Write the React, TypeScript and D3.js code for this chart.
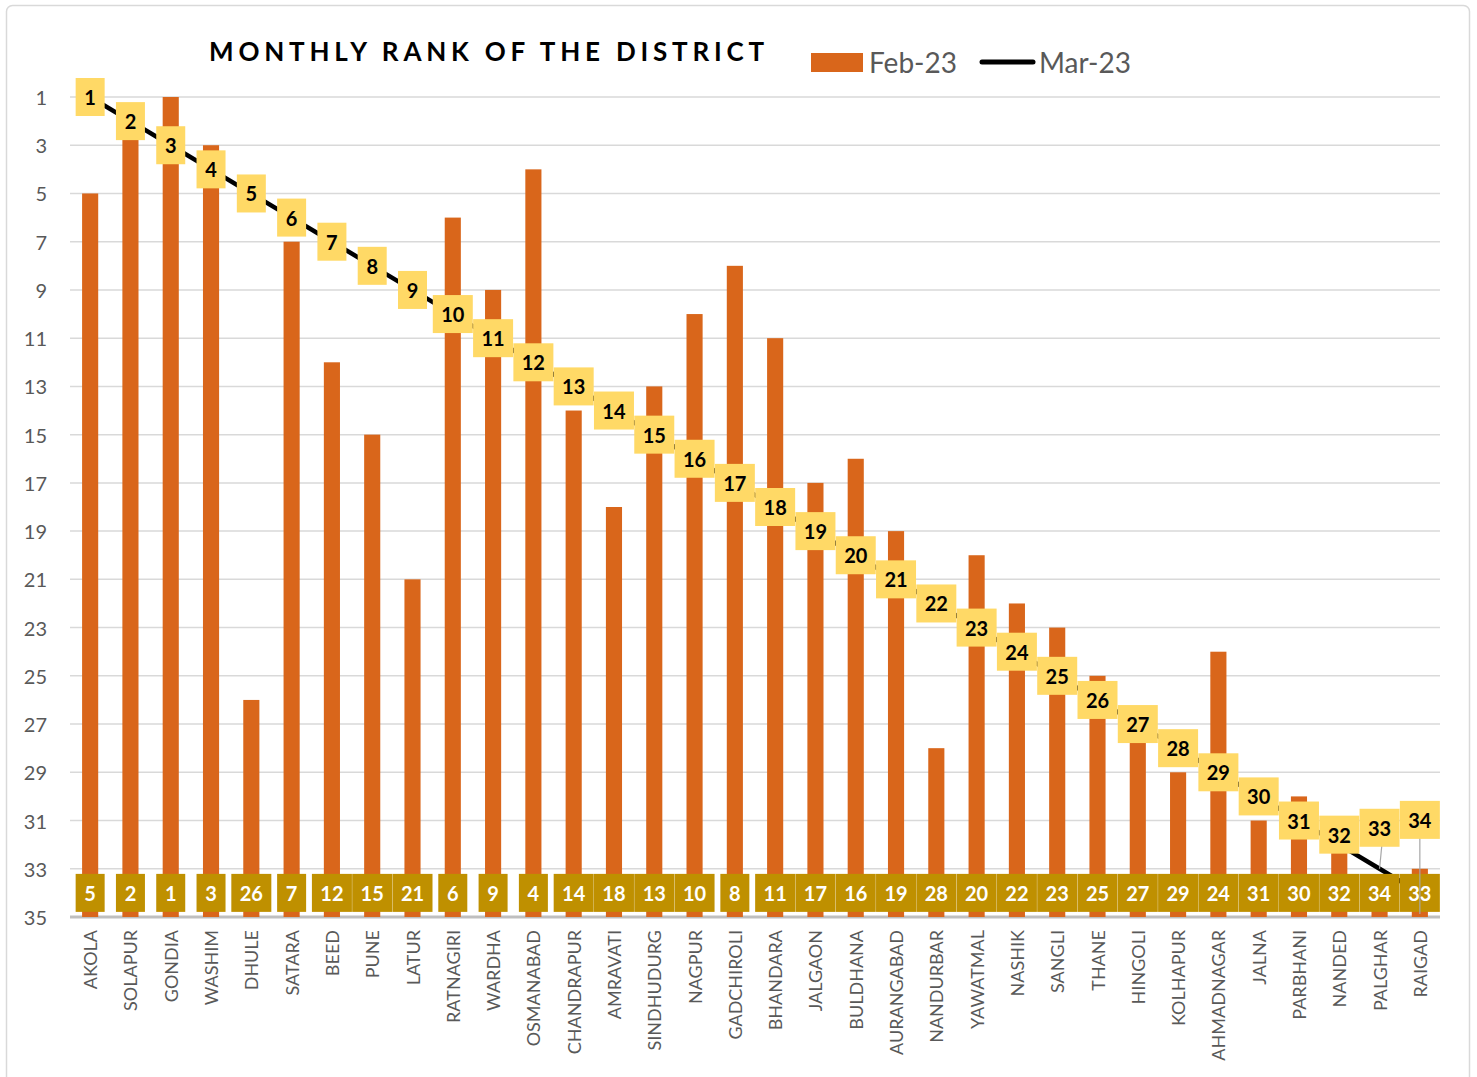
import * as d3 from "d3";

const districts = ["AKOLA", "SOLAPUR", "GONDIA", "WASHIM", "DHULE", "SATARA", "BEED", "PUNE", "LATUR", "RATNAGIRI", "WARDHA", "OSMANABAD", "CHANDRAPUR", "AMRAVATI", "SINDHUDURG", "NAGPUR", "GADCHIROLI", "BHANDARA", "JALGAON", "BULDHANA", "AURANGABAD", "NANDURBAR", "YAWATMAL", "NASHIK", "SANGLI", "THANE", "HINGOLI", "KOLHAPUR", "AHMADNAGAR", "JALNA", "PARBHANI", "NANDED", "PALGHAR", "RAIGAD"];
const feb23 = [5, 2, 1, 3, 26, 7, 12, 15, 21, 6, 9, 4, 14, 18, 13, 10, 8, 11, 17, 16, 19, 28, 20, 22, 23, 25, 27, 29, 24, 31, 30, 32, 34, 33];
const mar23 = [1, 2, 3, 4, 5, 6, 7, 8, 9, 10, 11, 12, 13, 14, 15, 16, 17, 18, 19, 20, 21, 22, 23, 24, 25, 26, 27, 28, 29, 30, 31, 32, 33, 34];
const yTicks = [1, 3, 5, 7, 9, 11, 13, 15, 17, 19, 21, 23, 25, 27, 29, 31, 33, 35];

const width = 1477;
const height = 1077;
const marginLeft = 70;
const marginRight = 37;
const font = "Lato, 'Open Sans', sans-serif";

const App = () => {
    const x = d3.scaleBand().domain(districts).range([marginLeft, width - marginRight]).paddingInner(0.6).paddingOuter(0.3);
    const y = d3.scaleLinear().domain([1, 35]).range([97, 917]);
    const cx = (d: string) => (x(d) ?? 0) + x.bandwidth() / 2;

    const line = d3.line<number>().x((d, i) => cx(districts[i])).y(d => y(d));
    const boxW = (s: string) => (s.length > 1 ? 40 : 29);

    // labels for the last points are pushed up, with leader lines
    const labelShift = (i: number) => (i === 31 ? -10 : i === 32 ? -41 : i === 33 ? -73 : 0);

    return (
        <div style={{ position: 'absolute', left: 0, top: 0 }}>
            <svg width={width} height={height} style={{ display: 'block', fontFamily: font }}>
                <rect x={6.5} y={5.5} width={1463} height={1080} rx={6} fill="#fff" stroke="#D9D9D9" strokeWidth={1.5} />

                <g>
                    {yTicks.map(t => (
                        <g key={t}>
                            <line x1={marginLeft} x2={width - marginRight} y1={y(t)} y2={y(t)} stroke={t === 35 ? '#BFBFBF' : '#D9D9D9'} strokeWidth={t === 35 ? 3 : 1.5} />
                            <text x={47} y={y(t)} textAnchor="end" dominantBaseline="central" fontSize={20} fill="#595959">{t}</text>
                        </g>
                    ))}
                </g>

                <g>
                    {districts.map((d, i) => (
                        <rect key={d} x={x(d)} width={x.bandwidth()} y={y(feb23[i])} height={y(35) - y(feb23[i])} fill="#D9661B" />
                    ))}
                </g>

                <path d={line(mar23) ?? ''} fill="none" stroke="#000" strokeWidth={4.5} />

                <g>
                    {districts.map((d, i) => {
                        const s = String(feb23[i]);
                        const w = boxW(s);
                        return (
                            <g key={d}>
                                <rect x={cx(d) - w / 2} y={y(34) - 19} width={w} height={38} fill="#BF9000" />
                                <text x={cx(d)} y={y(34)} textAnchor="middle" dominantBaseline="central" fontSize={20} fontWeight="bold" fill="#fff">{s}</text>
                            </g>
                        );
                    })}
                </g>

                <g>
                    {districts.map((d, i) => {
                        const s = String(mar23[i]);
                        const w = boxW(s);
                        const ly = y(mar23[i]) + labelShift(i);
                        const leader = i >= 32;
                        return (
                            <g key={d}>
                                {leader && <line x1={cx(d) + (i === 32 ? 3 : 0)} x2={cx(d)} y1={ly + 10} y2={i === 33 ? y(35) - 3 : y(mar23[i])} stroke="#A6A6A6" strokeWidth={1.2} />}
                                <rect x={cx(d) - w / 2} y={ly - 19} width={w} height={38} fill="#FFD966" />
                                <text x={cx(d)} y={ly} textAnchor="middle" dominantBaseline="central" fontSize={20} fontWeight="bold" fill="#000">{s}</text>
                            </g>
                        );
                    })}
                </g>

                <g>
                    {districts.map(d => (
                        <text key={d} transform={`translate(${cx(d)},${930}) rotate(-90)`} textAnchor="end" dominantBaseline="central" fontSize={18} fill="#595959">{d}</text>
                    ))}
                </g>

                <text x={489} y={61} textAnchor="middle" fontSize={26} fontWeight="bold" letterSpacing={4.8} fill="#000">MONTHLY RANK OF THE DISTRICT</text>

                <g>
                    <rect x={811} y={53} width={52} height={19} fill="#D9661B" />
                    <text x={869} y={62} dominantBaseline="central" fontSize={28} fill="#595959">Feb-23</text>
                    <line x1={982} x2={1033} y1={62} y2={62} stroke="#000" strokeWidth={5} strokeLinecap="round" />
                    <text x={1039} y={62} dominantBaseline="central" fontSize={28} fill="#595959">Mar-23</text>
                </g>
            </svg>
        </div>
    );
};

export default App;
